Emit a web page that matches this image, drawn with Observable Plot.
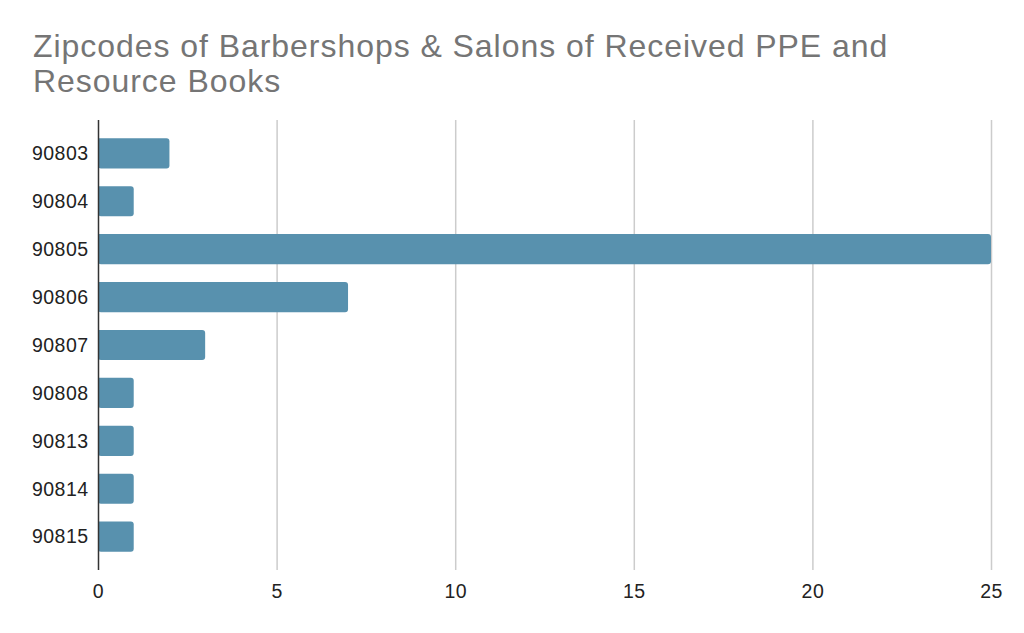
<!DOCTYPE html>
<html>
<head>
<meta charset="utf-8">
<script src="https://cdn.jsdelivr.net/npm/d3@7"></script>
<script src="https://cdn.jsdelivr.net/npm/@observablehq/plot@0.6"></script>
<style>
  html, body { margin: 0; padding: 0; background: #fff; }
  #title { position: absolute; left: 33px; top: 29px; width: 985px; font-family: Arial, "Liberation Sans", sans-serif; font-size: 32px; letter-spacing: 0.95px; line-height: 35px; color: #757575; white-space: nowrap; }
  #chart { position: absolute; left: 0; top: 100px; }
  #chart svg text { letter-spacing: 0.45px; }
</style>
</head>
<body>
<div id="title">Zipcodes of Barbershops &amp; Salons of Received PPE and<br>Resource Books</div>
<div id="chart"></div>
<script>
const zipcodes = ["90803", "90804", "90805", "90806", "90807", "90808", "90813", "90814", "90815"];
const counts = [2, 1, 25, 7, 3, 1, 1, 1, 1];
const xTicks = [0, 5, 10, 15, 20, 25];
const gridTicks = [5, 10, 15, 20, 25];

const data = zipcodes.map((z, i) => ({zip: z, count: counts[i]}));

const chart = Plot.plot({
  width: 1024,
  height: 533,
  marginLeft: 98,
  marginRight: 33,
  marginTop: 20,
  marginBottom: 63,
  style: {fontFamily: "Arial, 'Liberation Sans', sans-serif", fontSize: "19.5px", color: "#222", background: "#fff"},
  x: {domain: [0, 25], ticks: xTicks, tickSize: 0, tickPadding: 14, label: null},
  y: {domain: zipcodes, paddingInner: 0.37, paddingOuter: 0.38, round: false, tickSize: 0, tickPadding: 10, label: null},
  marks: [
    Plot.ruleX(gridTicks, {stroke: "#cccccc", strokeWidth: 1.5, strokeOpacity: 1}),
    Plot.barX(data, {x: "count", y: "zip", fill: "#5891ae", rx2: 3, ry2: 3}),
    Plot.ruleX([0], {stroke: "#333", strokeWidth: 1.5}),
    Plot.axisX({ticks: xTicks, tickSize: 0, tickPadding: 14, fontSize: 19.5, fill: "#222", label: null}),
    Plot.axisY({tickSize: 0, tickPadding: 10, fontSize: 19.5, fill: "#222", label: null})
  ]
});
document.getElementById("chart").appendChild(chart);
</script>
</body>
</html>
